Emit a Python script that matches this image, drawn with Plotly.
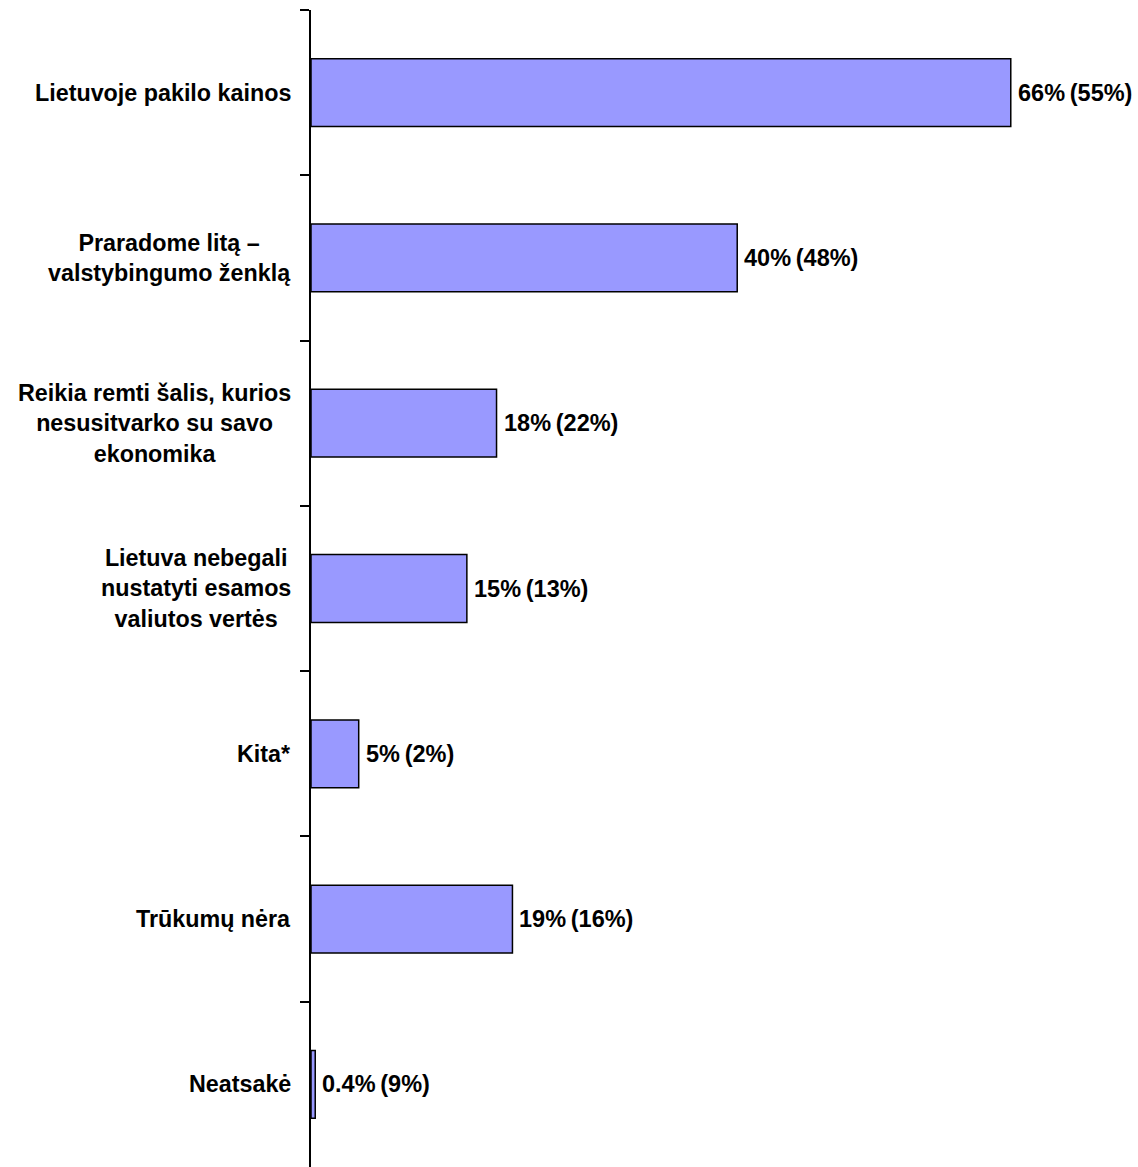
import plotly.graph_objects as go

categories = [
    "Lietuvoje pakilo kainos",
    "Praradome litą –<br>valstybingumo ženklą",
    "Reikia remti šalis, kurios<br>nesusitvarko su savo<br>ekonomika",
    "Lietuva nebegali<br>nustatyti esamos<br>valiutos vertės",
    "Kita*",
    "Trūkumų nėra",
    "Neatsakė",
]
values = [66.0, 40.2, 17.5, 14.7, 4.5, 19.0, 0.4]
value_labels = ["66%(55%)", "40%(48%)", "18%(22%)", "15%(13%)", "5%(2%)", "19%(16%)", "0.4%(9%)"]

FONT = "Liberation Sans, Arial, sans-serif"

fig = go.Figure(
    go.Bar(
        x=values,
        y=categories,
        orientation="h",
        marker=dict(color="#9999FF", line=dict(color="black", width=1.5)),
        hoverinfo="skip",
    )
)

annotations = []
for cat, v, lab in zip(categories, values, value_labels):
    annotations.append(dict(
        x=v, y=cat, xref="x", yref="y", text="<b>" + lab.replace("%(", "%\u2009(") + "</b>",
        showarrow=False, xanchor="left", yanchor="middle", xshift=5,
        font=dict(family=FONT, size=23.5, color="black"),
    ))
    annotations.append(dict(
        x=0, y=cat, xref="paper", yref="y", text="<b>" + cat + "</b>",
        showarrow=False, xanchor="right", yanchor="middle", align="center", xshift=-18,
        font=dict(family=FONT, size=23.3, color="black"),
    ))

fig.update_layout(
    width=1138, height=1167,
    margin=dict(l=311, r=0, t=10, b=0, autoexpand=False),
    paper_bgcolor="white", plot_bgcolor="white",
    bargap=0.59,
    showlegend=False,
    annotations=annotations,
    xaxis=dict(range=[0, 78], visible=False, fixedrange=True, automargin=False),
    yaxis=dict(
        type="category",
        categoryorder="array", categoryarray=categories,
        range=[6.5, -0.5],
        showticklabels=False,
        tickson="boundaries",
        ticks="outside", ticklen=9, tickwidth=2, tickcolor="black",
        showline=True, linewidth=2, linecolor="black",
        showgrid=False, zeroline=False, fixedrange=True, automargin=False,
    ),
)

fig.write_html(
    "out.html",
    config={"displayModeBar": False, "staticPlot": True},
    post_script="document.body.style.margin='0';document.body.style.overflow='hidden';",
)
